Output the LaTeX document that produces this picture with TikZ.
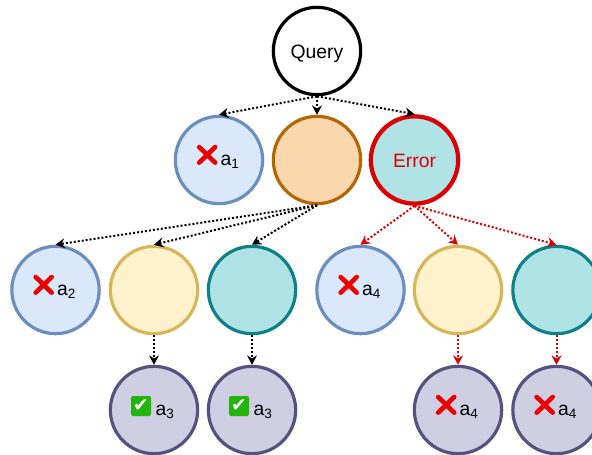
\documentclass[tikz,border=0pt]{standalone}
\usepackage{fontspec}
\setmainfont{Liberation Sans}
\newfontfamily\symfont{DejaVu Sans}
\newfontfamily\emojifont[FakeBold=4]{Noto Emoji}
\usepackage{tikz}
\usetikzlibrary{arrows.meta,positioning}
\definecolor{missfill}{HTML}{DAE8FC}
\definecolor{missline}{HTML}{6C8EBF}
\definecolor{midfill}{HTML}{FAD7AC}
\definecolor{midline}{HTML}{B46504}
\definecolor{tealfill}{HTML}{B0E3E6}
\definecolor{tealline}{HTML}{0E8088}
\definecolor{goldfill}{HTML}{FFF2CC}
\definecolor{goldline}{HTML}{D6B656}
\definecolor{leaffill}{HTML}{D0CEE2}
\definecolor{leafline}{HTML}{56517E}
\definecolor{errred}{HTML}{DD0000}
\definecolor{okgreen}{HTML}{22B40A}
\newcommand{\xmark}{{\emojifont\fontsize{15}{15}\selectfont\textcolor{red!92!black}{\raisebox{3pt}{❌}}}\hspace{0.5pt}}
\newcommand{\badans}[1]{\xmark a\textsubscript{#1}\kern3pt}
\newcommand{\okans}[1]{\hspace{16.5pt}a\textsubscript{#1}}

\begin{document}
\begin{tikzpicture}[
    x=0.75pt, y=-0.75pt,
    state/.style={circle, draw, line width=2.4pt, minimum size=65.5pt, inner sep=0pt, text height=8.5pt, text depth=0pt, font=\fontsize{14.5}{16}\selectfont},
    word/.style={text height=10.5pt},
    miss/.style={state, fill=missfill, draw=missline},
    mid/.style={state, fill=midfill, draw=midline},
    teal box/.style={state, fill=tealfill, draw=tealline},
    gold/.style={state, fill=goldfill, draw=goldline},
    leaf/.style={state, fill=leaffill, draw=leafline},
    okbox/.style={rectangle, rounded corners=1.5pt, fill=okgreen, text=white, minimum size=15pt, inner sep=0pt, font=\symfont\fontsize{14}{14}\selectfont},
    edge/.style={-{Stealth[length=7pt,width=7.5pt]}, line width=1.5pt, dash pattern=on 1.5pt off 1.5pt},
    erredge/.style={edge, errred}
]
\useasboundingbox (0,0) rectangle (592,454);

% Top of the tree
\node[state, word, fill=white, draw=black] (query) at (317,51) {Query};
\node[miss] (a1) at (219,160) {\badans{1}};
\node[mid] (mid) at (317,160) {};
\node[teal box, word, draw=errred, line width=3.2pt, text=errred] (error) at (414.5,160) {Error};

% Third row
\node[miss] (a2) at (55.5,290) {\badans{2}};
\node[gold] (gold1) at (154,290) {};
\node[teal box] (teal1) at (252,290) {};
\node[miss] (a4) at (360.5,290) {\badans{4}};
\node[gold] (gold2) at (458,290) {};
\node[teal box] (teal2) at (556.5,290) {};

% Leaves
\node[leaf] (ok1) at (154,410) {\okans{3}};
\node[leaf] (ok2) at (252,410) {\okans{3}};
\node[leaf] (bad1) at (458,410) {\badans{4}};
\node[leaf] (bad2) at (556.5,410) {\badans{4}};
\node[okbox] (tick1) at (141,406) {✔};
\node[okbox] (tick2) at (239,406) {✔};

% Edges
\draw[edge] (query.south) -- (a1.north);
\draw[edge] (query.south) -- (mid.north);
\draw[edge] (query.south) -- (error.north);
\draw[edge] (mid.south) -- (a2.north);
\draw[edge] (mid.south) -- (gold1.north);
\draw[edge] (mid.south) -- (teal1.north);
\draw[edge] (gold1) -- (ok1);
\draw[edge] (teal1) -- (ok2);
\draw[erredge] (error.south) -- (a4.north);
\draw[erredge] (error.south) -- (gold2.north);
\draw[erredge] (error.south) -- (teal2.north);
\draw[erredge] (gold2) -- (bad1);
\draw[erredge] (teal2) -- (bad2);
\end{tikzpicture}
\end{document}
